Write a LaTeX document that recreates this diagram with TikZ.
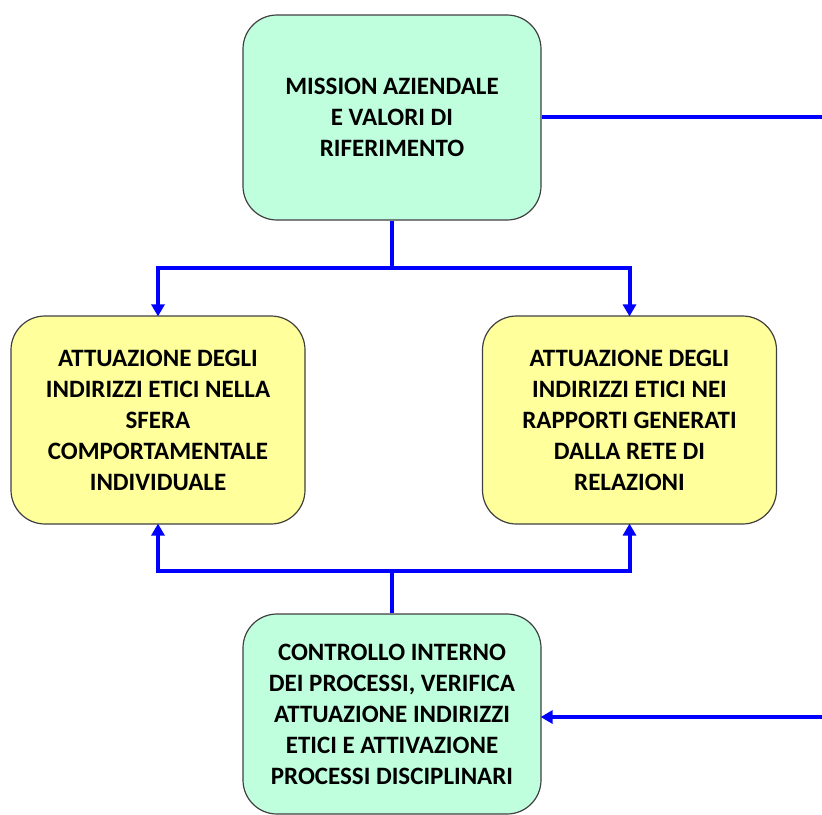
\documentclass[tikz,border=0pt]{standalone}
\usepackage{fontspec}
\setmainfont{Carlito}
\usetikzlibrary{arrows.meta}
\definecolor{boxgreen}{RGB}{192,255,222}
\definecolor{boxyellow}{RGB}{255,255,155}
\definecolor{linkblue}{RGB}{0,0,255}
\tikzset{
  x=1pt, y=-1pt,
  box/.style={draw=black!75, line width=1.2pt, rounded corners=34pt, align=center,
    font=\fontsize{25}{31}\selectfont\bfseries, inner sep=0pt},
  greenbox/.style={box, fill=boxgreen, minimum width=298pt},
  yellowbox/.style={box, fill=boxyellow, minimum width=294pt, minimum height=208pt},
  link/.style={draw=linkblue, line width=4pt},
  linkarrow/.style={link, -{Triangle[length=12pt,width=13pt]}, shorten >=-1pt},
}
\begin{document}
\begin{tikzpicture}
\useasboundingbox (0,0) rectangle (822,814);
\node[greenbox, minimum height=205pt] (mission) at (392,117.5) {MISSION AZIENDALE\\E VALORI DI\\RIFERIMENTO};
\node[yellowbox] (left) at (158,420) {\raisebox{0pt}{}ATTUAZIONE DEGLI\\INDIRIZZI ETICI NELLA\\SFERA\\COMPORTAMENTALE\\INDIVIDUALE};
\node[yellowbox] (right) at (629.5,420) {ATTUAZIONE DEGLI\\INDIRIZZI ETICI NEI\\RAPPORTI GENERATI\\DALLA RETE DI\\RELAZIONI};
\node[greenbox, minimum height=200pt] (control) at (392,714) {CONTROLLO INTERNO\\DEI PROCESSI, VERIFICA\\ATTUAZIONE INDIRIZZI\\ETICI E ATTIVAZIONE\\PROCESSI DISCIPLINARI};
\coordinate (topjoin) at (392,268);
\coordinate (botjoin) at (392,571);
\coordinate (outright) at (823,117);
\coordinate (inright) at (823,717);
\draw[link] (mission.south) -- (topjoin);
\draw[linkarrow] (topjoin) -| (left.north);
\draw[linkarrow] (topjoin) -| (right.north);
\draw[link] (control.north) -- (botjoin);
\draw[linkarrow] (botjoin) -| (left.south);
\draw[linkarrow] (botjoin) -| (right.south);
\draw[link] (mission.east |- outright) -- (outright);
\draw[linkarrow] (inright) -- (control.east |- inright);
\end{tikzpicture}
\end{document}
